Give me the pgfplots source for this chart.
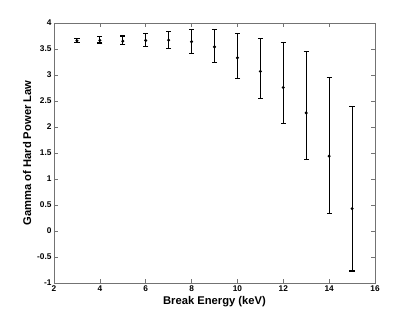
\documentclass[border=0pt]{standalone}
\usepackage{fontspec}
\setmainfont{Liberation Sans}
\usepackage{pgfplots}
\usepackage{pgfplotstable}
\pgfplotsset{compat=1.18}
\pgfplotstableread{
x y ep em
3 3.66 0.04 0.04
4 3.665 0.07 0.05
5 3.65 0.10 0.07
6 3.665 0.125 0.11
7 3.67 0.16 0.16
8 3.64 0.24 0.225
9 3.54 0.34 0.30
10 3.33 0.46 0.405
11 3.07 0.63 0.52
12 2.76 0.86 0.70
13 2.27 1.18 0.90
14 1.44 1.52 1.095
15 0.43 1.96 1.20
}\datatable
\begin{document}
\begin{tikzpicture}[x=1pt,y=1pt]
\path (-54,-35) rectangle (361,283);
\begin{axis}[
  at={(0,0)}, anchor=south west,
  scale only axis, width=321pt, height=260pt,
  xmin=2, xmax=16, ymin=-1, ymax=4,
  xtick={2,4,...,16},
  ytick={-1,-0.5,0,0.5,1,1.5,2,2.5,3,3.5,4},
  tick align=inside,
  major tick length=4pt,
  axis line style={black!55, line width=0.8pt},
  every tick/.style={black!55, line width=0.6pt},
  /pgf/number format/assume math mode=true,
  /pgf/number format/.cd, fixed, /pgfplots/.cd,
  tick label style={font=\fontsize{8.3}{9}\selectfont\bfseries},
  xticklabel style={yshift=1pt},
  yticklabel style={xshift=1pt},
  label style={font=\fontsize{11.2}{13}\selectfont\bfseries},
  xlabel={Break Energy (keV)},
  ylabel={Gamma of Hard Power Law},
  xlabel style={yshift=2pt},
  ylabel style={yshift=-1pt},
]
\addplot[black, line width=1.1pt, only marks, mark=*, mark size=0.9pt,
  error bars/.cd, y dir=both, y explicit,
  error bar style={line width=1.1pt, black},
  error mark options={rotate=90, mark size=2.6pt, line width=1.1pt, black}]
  table[x=x, y=y, y error plus=ep, y error minus=em] {\datatable};
\end{axis}
\end{tikzpicture}
\end{document}
